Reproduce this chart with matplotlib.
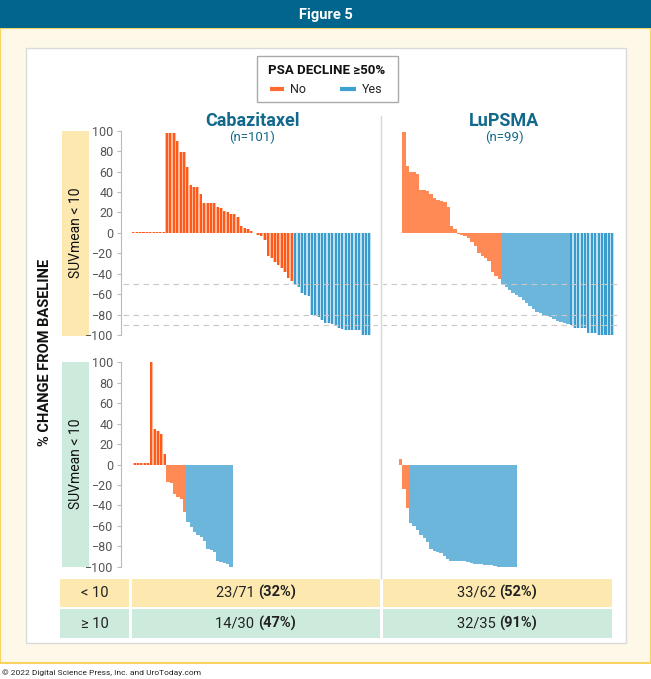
import numpy as np
import matplotlib.pyplot as plt
from matplotlib.patches import Rectangle

plt.rcParams['font.family'] = ['Roboto', 'DejaVu Sans']

# % change from baseline, sorted waterfall order
cab_low = [1, 1, 1, 1, 1, 1, 1, 1, 1, 1,
           98, 98, 98, 90, 79, 79, 64, 47, 45, 45,
           38, 29, 29, 29, 29, 25, 24, 21, 20, 18,
           18, 16, 7, 5, 4, 2,
           0, -2, -3, -7, -23, -25, -29, -31, -34, -38, -44, -47,
           -50, -53, -59, -61, -62, -80, -80, -82, -85, -88,
           -88, -89, -91, -93, -94, -95, -95, -95, -95, -95,
           -100, -100, -100]
cab_high = [1, 1, 1, 1, 1, 100, 35, 33, 30, 10,
            -17, -18, -29, -32, -34, -46,
            -56, -61, -66, -69, -71, -75, -83, -84, -86, -94,
            -95, -96, -97, -100]
lu_low = [99, 65, 60, 60, 58, 42, 42, 41, 38, 34, 32, 31, 30, 25, 7, 4,
          -1, -2, -3, -5, -9, -13, -20, -23, -25, -28, -38, -42, -45,
          -50, -53, -56, -59, -61, -63, -66, -69, -72, -75,
          -77, -78, -80, -81, -82, -84, -86, -87, -88, -89,
          -90, -93, -93, -93, -93, -98, -98, -98,
          -100, -100, -100, -100, -100]
lu_high = [5, -24, -43,
           -57, -60, -64, -69, -72, -76, -83, -85, -86, -87,
           -90, -92, -94, -94, -94, -94, -94, -95, -96, -97,
           -97, -97, -98, -98, -98, -99,
           -100, -100, -100, -100, -100, -100]

# responders / totals and % (table)
resp = {'cab_low': (23, 71), 'cab_high': (14, 30), 'lu_low': (33, 62), 'lu_high': (32, 35)}
pct = {'cab_low': 32, 'cab_high': 47, 'lu_low': 52, 'lu_high': 91}
ref_lines = [-50, -80, -90]
yticks = list(range(-100, 101, 20))

W, H = 651, 679
fig = plt.figure(figsize=(W / 100, H / 100), dpi=100)
bg = fig.add_axes([0, 0, 1, 1])
bg.set_xlim(0, W)
bg.set_ylim(H, 0)
bg.axis('off')


def rect(x0, y0, x1, y1, **kw):
    bg.add_patch(Rectangle((x0, y0), x1 - x0, y1 - y0, **kw))


def px_axes(x0, y0, x1, y1):
    ax = fig.add_axes([x0 / W, 1 - y1 / H, (x1 - x0) / W, (y1 - y0) / H])
    ax.set_facecolor('none')
    return ax


# frame
rect(0, 28, W, 663, facecolor='#FEF8E9', edgecolor='#F7D35F', lw=1.5)
rect(0, 0, W, 28, facecolor='#02658D', edgecolor='none')
bg.text(326, 15, 'Figure 5', color='white', fontsize=10.5, fontweight='bold', ha='center', va='center')
rect(26, 48, 626, 643, facecolor='white', edgecolor='#DADADA', lw=1)

# legend
rect(257, 56, 397.5, 101.7, facecolor='white', edgecolor='#AAAAAA', lw=1)
bg.text(327, 71, 'PSA DECLINE ≥50%', fontsize=9.5, fontweight='bold', ha='center', va='center', color='#111111')
bg.plot([270, 284], [89, 89], color='#FF6A30', lw=3, solid_capstyle='butt')
bg.text(290, 89.5, 'No', fontsize=9, va='center', color='#222222')
bg.plot([340, 356], [89, 89], color='#3EA0D0', lw=3, solid_capstyle='butt')
bg.text(362, 89.5, 'Yes', fontsize=9, va='center', color='#222222')

# column titles
for cx, name, n in [(252, 'Cabazitaxel', '(n=101)'), (504, 'LuPSMA', '(n=99)')]:
    bg.text(cx, 121, name, fontsize=13, fontweight='bold', color='#12698C', ha='center', va='center')
    bg.text(cx, 137, n, fontsize=9.5, color='#12698C', ha='center', va='center')

# row labels
rect(61.7, 130.7, 89.3, 336, facecolor='#FDE8B0', edgecolor='none')
rect(61.7, 362, 89.3, 567, facecolor='#CDEBDD', edgecolor='none')
bg.text(75.5, 233, 'SUVmean < 10', rotation=90, fontsize=10, ha='center', va='center', color='#111111')
bg.text(75.5, 464, 'SUVmean < 10', rotation=90, fontsize=10, ha='center', va='center', color='#111111')
bg.text(45, 352, '% CHANGE FROM BASELINE', rotation=90, fontsize=10.5, fontweight='bold',
        ha='center', va='center', color='#111111')

# divider
bg.plot([381, 381], [116, 578], color='#D6D6D6', lw=1)

NO_S, NO_D, NO_L = '#FF8A55', '#FF5A1C', '#FFB898'
YES_S, YES_D, YES_L = '#6BB6DA', '#3A9BCD', '#BFE0F0'


def waterfall(ax, vals, key, start_px, ax_left, ax_w, bw, striped):
    n_yes, n = resp[key]
    x = np.arange(n)
    for i in range(n):
        yes = i >= n - n_yes
        if striped(i):
            ax.bar(x[i], vals[i], width=1.0, color=YES_L if yes else NO_L, linewidth=0)
            ax.bar(x[i], vals[i], width=0.6, color=YES_D if yes else NO_D, linewidth=0)
        else:
            ax.bar(x[i], vals[i], width=1.05, color=YES_S if yes else NO_S, linewidth=0)
    left = -0.5 - (start_px - ax_left) / bw
    ax.set_xlim(left, left + ax_w / bw)
    ax.set_ylim(-100, 100)
    for s in ax.spines.values():
        s.set_visible(False)
    ax.set_xticks([])


def left_axis(ax):
    ax.spines['left'].set_visible(True)
    ax.spines['left'].set_color('#BBBBBB')
    ax.set_yticks(yticks)
    ax.tick_params(axis='y', length=3, color='#BBBBBB', labelsize=9, labelcolor='#555555', pad=2)


# top-left: cabazitaxel SUV < 10
ax1 = px_axes(120.5, 130.7, 378, 335)
waterfall(ax1, cab_low, 'cab_low', 131.7, 120.5, 257.5, 3.37, lambda i: True)
left_axis(ax1)
for r in ref_lines:
    ax1.axhline(r, xmin=0.01, color='#C8C8C8', lw=0.8, ls=(0, (5, 4)))

# top-right: LuPSMA SUV < 10
ax2 = px_axes(383, 130.7, 626, 335)
waterfall(ax2, lu_low, 'lu_low', 402, 383, 243, 3.42, lambda i: i >= 49)
ax2.set_yticks([])
for r in ref_lines:
    ax2.axhline(r, xmin=-0.01, xmax=0.97, color='#C8C8C8', lw=0.8, ls=(0, (5, 4)))

# bottom-left: cabazitaxel
ax3 = px_axes(120.5, 362.3, 378, 566.7)
waterfall(ax3, cab_high, 'cab_high', 133, 120.5, 257.5, 3.33, lambda i: i < 10)
left_axis(ax3)

# bottom-right: LuPSMA
ax4 = px_axes(383, 362.3, 626, 566.7)
waterfall(ax4, lu_high, 'lu_high', 399, 383, 243, 3.37, lambda i: False)
ax4.set_yticks([])

# summary table
rows = [('< 10', 'cab_low', 'lu_low', '#FDE8B0', 579, 606.7),
        ('≥ 10', 'cab_high', 'lu_high', '#CDEBDD', 609.3, 637.7)]
for label, k1, k2, col, y0, y1 in rows:
    yc = (y0 + y1) / 2
    rect(60, y0, 129, y1, facecolor=col, edgecolor='none')
    rect(132, y0, 380, y1, facecolor=col, edgecolor='none')
    rect(383, y0, 612, y1, facecolor=col, edgecolor='none')
    bg.text(94.5, yc, label, fontsize=10.5, ha='center', va='center', color='#222222')
    for cx, k in [(256, k1), (497.5, k2)]:
        a, b = resp[k]
        bg.text(cx + 2, yc, f'{a}/{b} ', fontsize=10.5, ha='right', va='center', color='#222222')
        bg.text(cx + 2, yc, f'({pct[k]}%)', fontsize=10.5, fontweight='bold',
                ha='left', va='center', color='#222222')

bg.text(2, 673, '© 2022 Digital Science Press, Inc. and UroToday.com', fontsize=6,
        ha='left', va='center', color='#222222')

fig.savefig('out.png', dpi=100)
